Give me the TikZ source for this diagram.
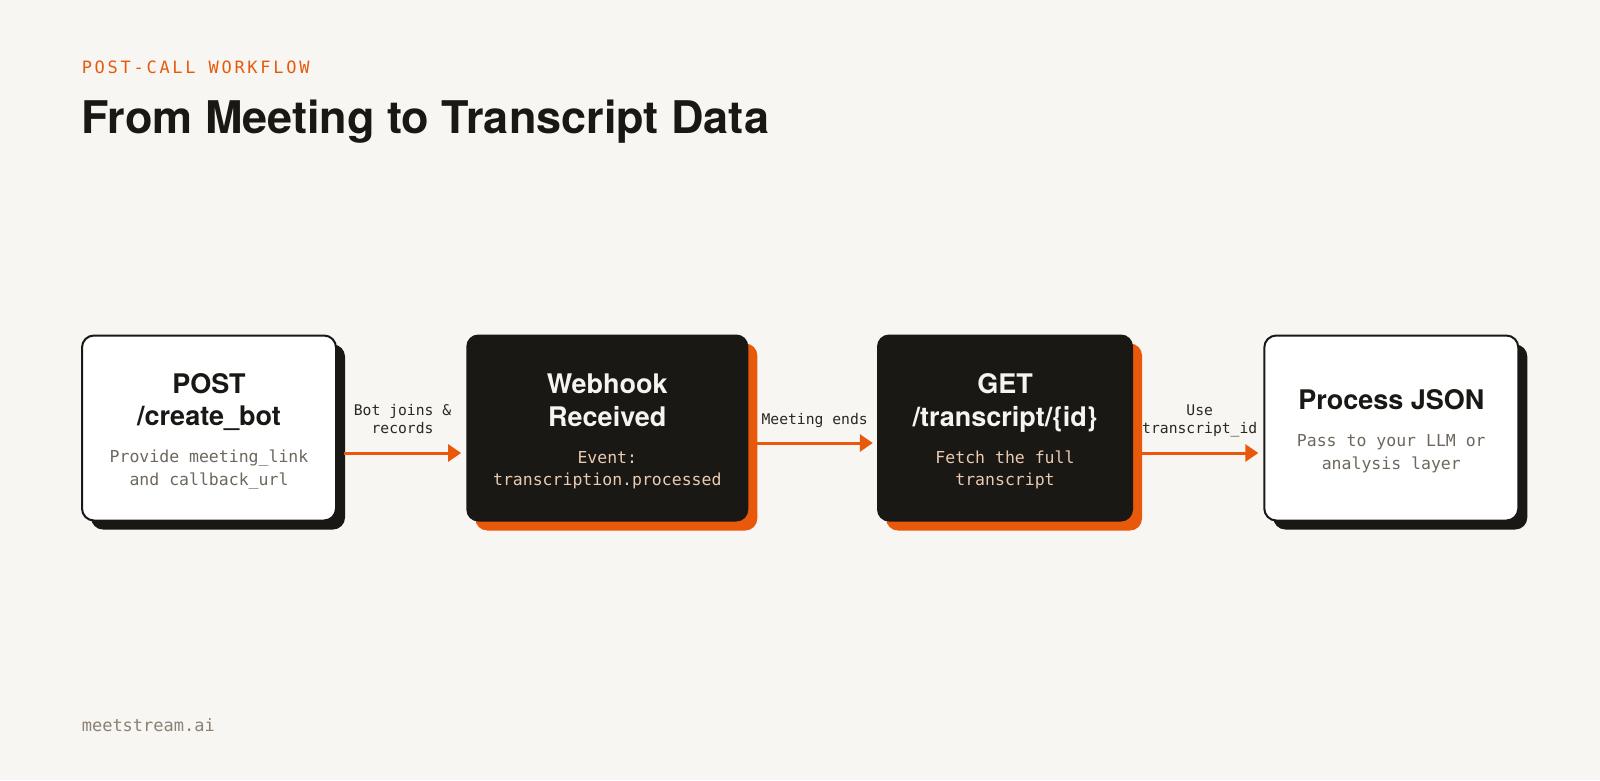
\documentclass[tikz,border=0pt]{standalone}
\usepackage{fontspec}
\setmainfont{TeX Gyre Heros}
\newfontfamily\monofont{DejaVu Sans Mono}
\newfontfamily\kickerfont[LetterSpace=16]{DejaVu Sans Mono}
\usetikzlibrary{arrows.meta,shadows}
\definecolor{paper}{HTML}{F7F6F3}
\definecolor{ink}{HTML}{1A1814}
\definecolor{accent}{HTML}{E8590C}
\definecolor{muted}{HTML}{6E675D}
\definecolor{peach}{HTML}{E9CBB2}
\definecolor{snow}{HTML}{F7F4EF}
\definecolor{label}{HTML}{2B2824}
\definecolor{footer}{HTML}{8C8174}
\newcommand{\steptext}[2]{%
  {\fontsize{27}{32.5}\selectfont\bfseries\spaceskip=\fontdimen2\font\relax\rule{0pt}{26.5pt}#1\par}\vspace{14.7pt}%
  {\monofont\fontsize{16.5}{22.3}\selectfont\spaceskip=\fontdimen2\font\relax\color{subtext}#2\par}}
\begin{document}
\begin{tikzpicture}[x=1pt,y=-1pt]
\tikzstyle{lightbox}=[rounded corners=12pt, draw=ink, line width=2pt, fill=white, text=ink,
  minimum width=254pt, minimum height=185pt, text width=232pt, align=center, inner sep=0pt,
  execute at begin node={\colorlet{subtext}{muted}},
  drop shadow={shadow xshift=9pt, shadow yshift=-9pt, fill=ink, opacity=1}]
\tikzstyle{darkbox}=[rounded corners=12pt, fill=ink, text=snow,
  minimum width=256pt, minimum height=187pt, text width=232pt, align=center, inner sep=0pt,
  execute at begin node={\colorlet{subtext}{peach}},
  drop shadow={shadow xshift=9pt, shadow yshift=-9pt, fill=accent, opacity=1}]
\tikzstyle{flow}=[draw=accent, line width=3pt, -{Triangle[length=13pt,width=17pt]}]
\tikzstyle{note}=[font=\monofont\fontsize{14.7}{18.3}\selectfont, text=label, align=center, inner sep=0pt]
%
\fill[paper] (0,0) rectangle (1600,780);
\useasboundingbox (0,0) rectangle (1600,780);
%
\node[anchor=base west, inner sep=0pt, text=accent, font=\kickerfont\fontsize{17}{20}\selectfont] at (81.6,73.5) (kicker) {POST-CALL WORKFLOW};
\node[anchor=base west, inner sep=0pt, text=ink, font=\fontsize{45}{50}\selectfont\bfseries] at (81,133.7) (title) {From Meeting to Transcript Data};
%
\node[lightbox] at (209,428) (post) {\steptext{POST\\/create\_bot}{Provide meeting\_link\\and callback\_url}};
\node[darkbox, minimum width=282pt, text width=260pt] at (607.3,428) (hook) {\steptext{Webhook\\Received}{Event:\\transcription.processed}};
\node[darkbox] at (1005,428) (get) {\steptext{GET\\/transcript/\{id\}}{Fetch the full\\transcript}};
\node[lightbox] at (1391.3,428) (json) {\steptext{Process JSON}{Pass to your LLM or\\analysis layer}};
%
\draw[flow] ([xshift=7pt,yshift=-25pt]post.east) -- ([xshift=-5pt,yshift=-25pt]hook.west)
  node[note, midway, above=18pt] (n1) {Bot joins \&\\records};
\draw[flow] ([xshift=8pt,yshift=-15pt]hook.east) -- ([xshift=-4pt,yshift=-15pt]get.west)
  node[note, midway, above=14pt] (n2) {Meeting ends};
\draw[flow] ([xshift=8pt,yshift=-25pt]get.east) -- ([xshift=-5pt,yshift=-25pt]json.west)
  node[note, midway, above=14.6pt] (n3) {Use\\transcript\_id};
%
\node[anchor=base west, inner sep=0pt, text=footer, font=\monofont\fontsize{17}{20}\selectfont] at (81.6,731.6) (site) {meetstream.ai};
\end{tikzpicture}
\end{document}
